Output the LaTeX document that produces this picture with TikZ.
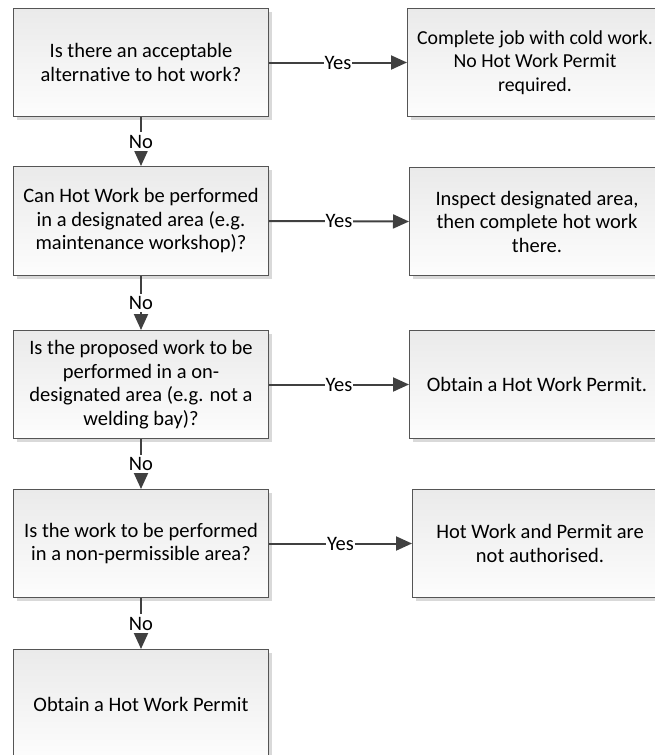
\documentclass[tikz,border=0pt]{standalone}
\usepackage{fontspec}
\setmainfont{Carlito}[Ligatures=NoCommon]
\usetikzlibrary{shadows,arrows.meta}
\definecolor{edgec}{HTML}{555555}
\definecolor{linec}{HTML}{404040}
\definecolor{topc}{HTML}{EAEAEA}
\definecolor{botc}{HTML}{FDFDFD}
\tikzset{
  fbox/.style={draw=edgec, line width=1pt, top color=topc, bottom color=botc,
    minimum width=255pt, minimum height=108pt, align=center,
    font=\fontsize{20.5}{23.5}\selectfont, text=black,
    drop shadow={shadow xshift=3pt, shadow yshift=-3pt, fill=black!15, opacity=1},
    inner sep=0pt, anchor=north west},
  conn/.style={draw=linec, line width=2pt, -{Triangle[length=16pt,width=14pt]}},
  lbl/.style={fill=white, inner xsep=1pt, inner ysep=2.5pt, text=black, font=\fontsize{20.5}{23.5}\selectfont}
}
\begin{document}
\begin{tikzpicture}[x=1pt,y=-1pt]
\useasboundingbox (0,0) rectangle (655,755);
\clip (0,0) rectangle (655,755);
\node[fbox] (b1) at (13,8) {Is there an acceptable\\alternative to hot work?};
\node[fbox, minimum height=109pt] (b2) at (13,166) {Can Hot Work be performed\\in a designated area (e.g.\\maintenance workshop)?};
\node[fbox] (b3) at (13,330) {Is the proposed work to be\\performed in a on-\\designated area (e.g. not a\\welding bay)?};
\node[fbox] (b4) at (13,489) {Is the work to be performed\\in a non-permissible area?};
\node[fbox, minimum height=110pt] (b5) at (13,649) {Obtain a Hot Work Permit};
\node[fbox, font=\fontsize{19.8}{23.5}\selectfont] (r1) at (407,8) {Complete job with cold work.\\No Hot Work Permit\\required.};
\node[fbox] (r2) at (409,167) {Inspect designated area,\\then complete hot work\\there.};
\node[fbox] (r3) at (409,330) {Obtain a Hot Work Permit.};
\node[fbox] (r4) at (412,489) {Hot Work and Permit are\\not authorised.};
\draw[conn] (b1.east) -- node[lbl]{Yes} (r1.west);
\draw[conn] (b2.east) -- node[lbl]{Yes} (r2.west);
\draw[conn] (b3.east) -- node[lbl]{Yes} (r3.west);
\draw[conn] (b4.east) -- node[lbl]{Yes} (r4.west);
\draw[conn] (b1.south) -- node[lbl]{No} (b2.north);
\draw[conn] (b2.south) -- node[lbl]{No} (b3.north);
\draw[conn] (b3.south) -- node[lbl]{No} (b4.north);
\draw[conn] (b4.south) -- node[lbl]{No} (b5.north);
\end{tikzpicture}
\end{document}
